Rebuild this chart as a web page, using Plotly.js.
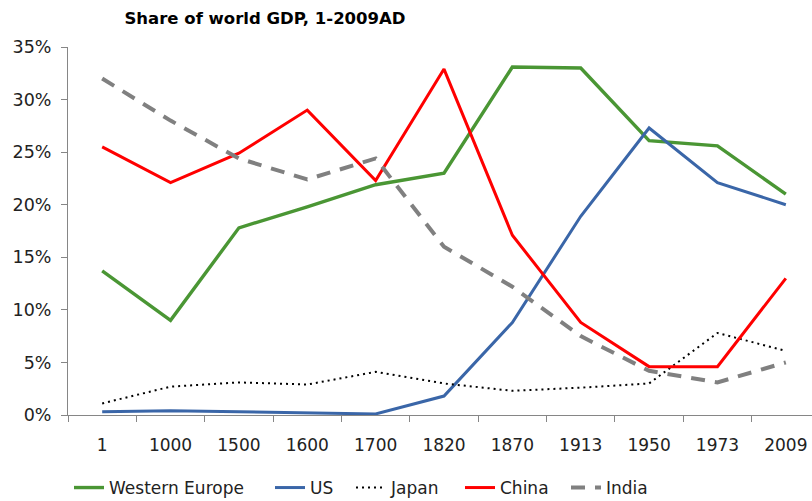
<!DOCTYPE html>
<html>
<head>
<meta charset="utf-8">
<script src="https://cdn.plot.ly/plotly-3.0.1.min.js"></script>
<style>
  html, body { margin: 0; padding: 0; overflow: hidden; background: #fff; }
  #chart { width: 822px; height: 501px; }
</style>
</head>
<body>
<div id="chart"></div>
<script>
// Benchmark years (category axis)
const years = ['1', '1000', '1500', '1600', '1700', '1820', '1870', '1913', '1950', '1973', '2009'];

// Share of world GDP, percent
const westernEurope = [13.7, 9.0, 17.8, 19.8, 21.9, 23.0, 33.1, 33.0, 26.1, 25.6, 21.0];
const us            = [0.3, 0.4, 0.3, 0.2, 0.1, 1.8, 8.8, 18.9, 27.3, 22.1, 20.0];
const japan         = [1.1, 2.7, 3.1, 2.9, 4.1, 3.0, 2.3, 2.6, 3.0, 7.8, 6.1];
const china         = [25.5, 22.1, 24.9, 29.0, 22.3, 32.9, 17.1, 8.8, 4.6, 4.6, 13.0];
const india         = [32.0, 28.0, 24.4, 22.4, 24.4, 16.0, 12.2, 7.5, 4.2, 3.1, 5.0];

const yTicks = [0, 5, 10, 15, 20, 25, 30, 35];

const toShare = arr => arr.map(v => v / 100);

function series(name, values, line, legendId) {
  return {
    type: 'scatter', mode: 'lines', name: name,
    x: years, y: toShare(values), line: line,
    legend: legendId, hoverinfo: 'x+y+name'
  };
}

const traces = [
  series('Western Europe', westernEurope, { color: '#4a9634', width: 3.4 }, 'legend'),
  series('US', us, { color: '#3a66a8', width: 3 }, 'legend2'),
  series('Japan', japan, { color: '#000000', width: 2, dash: '2px,4px' }, 'legend3'),
  series('China', china, { color: '#ff0000', width: 3 }, 'legend4'),
  series('India', india, { color: '#808080', width: 4, dash: '14px,10px' }, 'legend5')
];

const W = 822, H = 501;
const FONT = 'DejaVu Sans, Verdana, sans-serif';

// one single-entry legend per series, laid out along the bottom
function legendAt(xPx) {
  return {
    orientation: 'h',
    xref: 'container', yref: 'container',
    x: xPx / W, xanchor: 'left',
    y: 1 - 488 / H, yanchor: 'middle',
    font: { family: FONT, size: 17, color: '#222222' },
    bgcolor: 'rgba(0,0,0,0)',
    itemwidth: 30
  };
}

const layout = {
  width: W,
  height: H,
  margin: { l: 68, r: 2, t: 47, b: 86 },
  paper_bgcolor: '#ffffff',
  plot_bgcolor: '#ffffff',
  font: { family: FONT, color: '#222222' },
  title: {
    text: '<b>Share of world GDP, 1-2009AD</b>',
    font: { family: FONT, size: 16.5, color: '#000000' },
    xref: 'container', yref: 'container',
    x: 265 / W, xanchor: 'center',
    y: 1 - 18 / H, yanchor: 'middle'
  },
  xaxis: {
    type: 'category',
    range: [-0.5, 10.5],
    showgrid: false,
    zeroline: false,
    showline: true,
    linecolor: '#868686',
    linewidth: 1,
    ticks: 'outside',
    tickson: 'boundaries',
    ticklen: 6,
    tickcolor: '#868686',
    ticklabelstandoff: 15,
    tickfont: { family: FONT, size: 17, color: '#222222' },
    fixedrange: true
  },
  yaxis: {
    range: [0, 0.35],
    tickvals: yTicks.map(v => v / 100),
    ticktext: yTicks.map(v => v + '%'),
    showgrid: false,
    zeroline: false,
    showline: true,
    linecolor: '#868686',
    linewidth: 1,
    ticks: 'outside',
    ticklen: 6,
    tickcolor: '#868686',
    ticklabelstandoff: 6,
    tickfont: { family: FONT, size: 17.5, color: '#222222' },
    fixedrange: true
  },
  showlegend: true,
  legend: legendAt(69),
  legend2: legendAt(270),
  legend3: legendAt(351),
  legend4: legendAt(460),
  legend5: legendAt(566)
};

Plotly.newPlot('chart', traces, layout, { displayModeBar: false, staticPlot: true });
</script>
</body>
</html>
